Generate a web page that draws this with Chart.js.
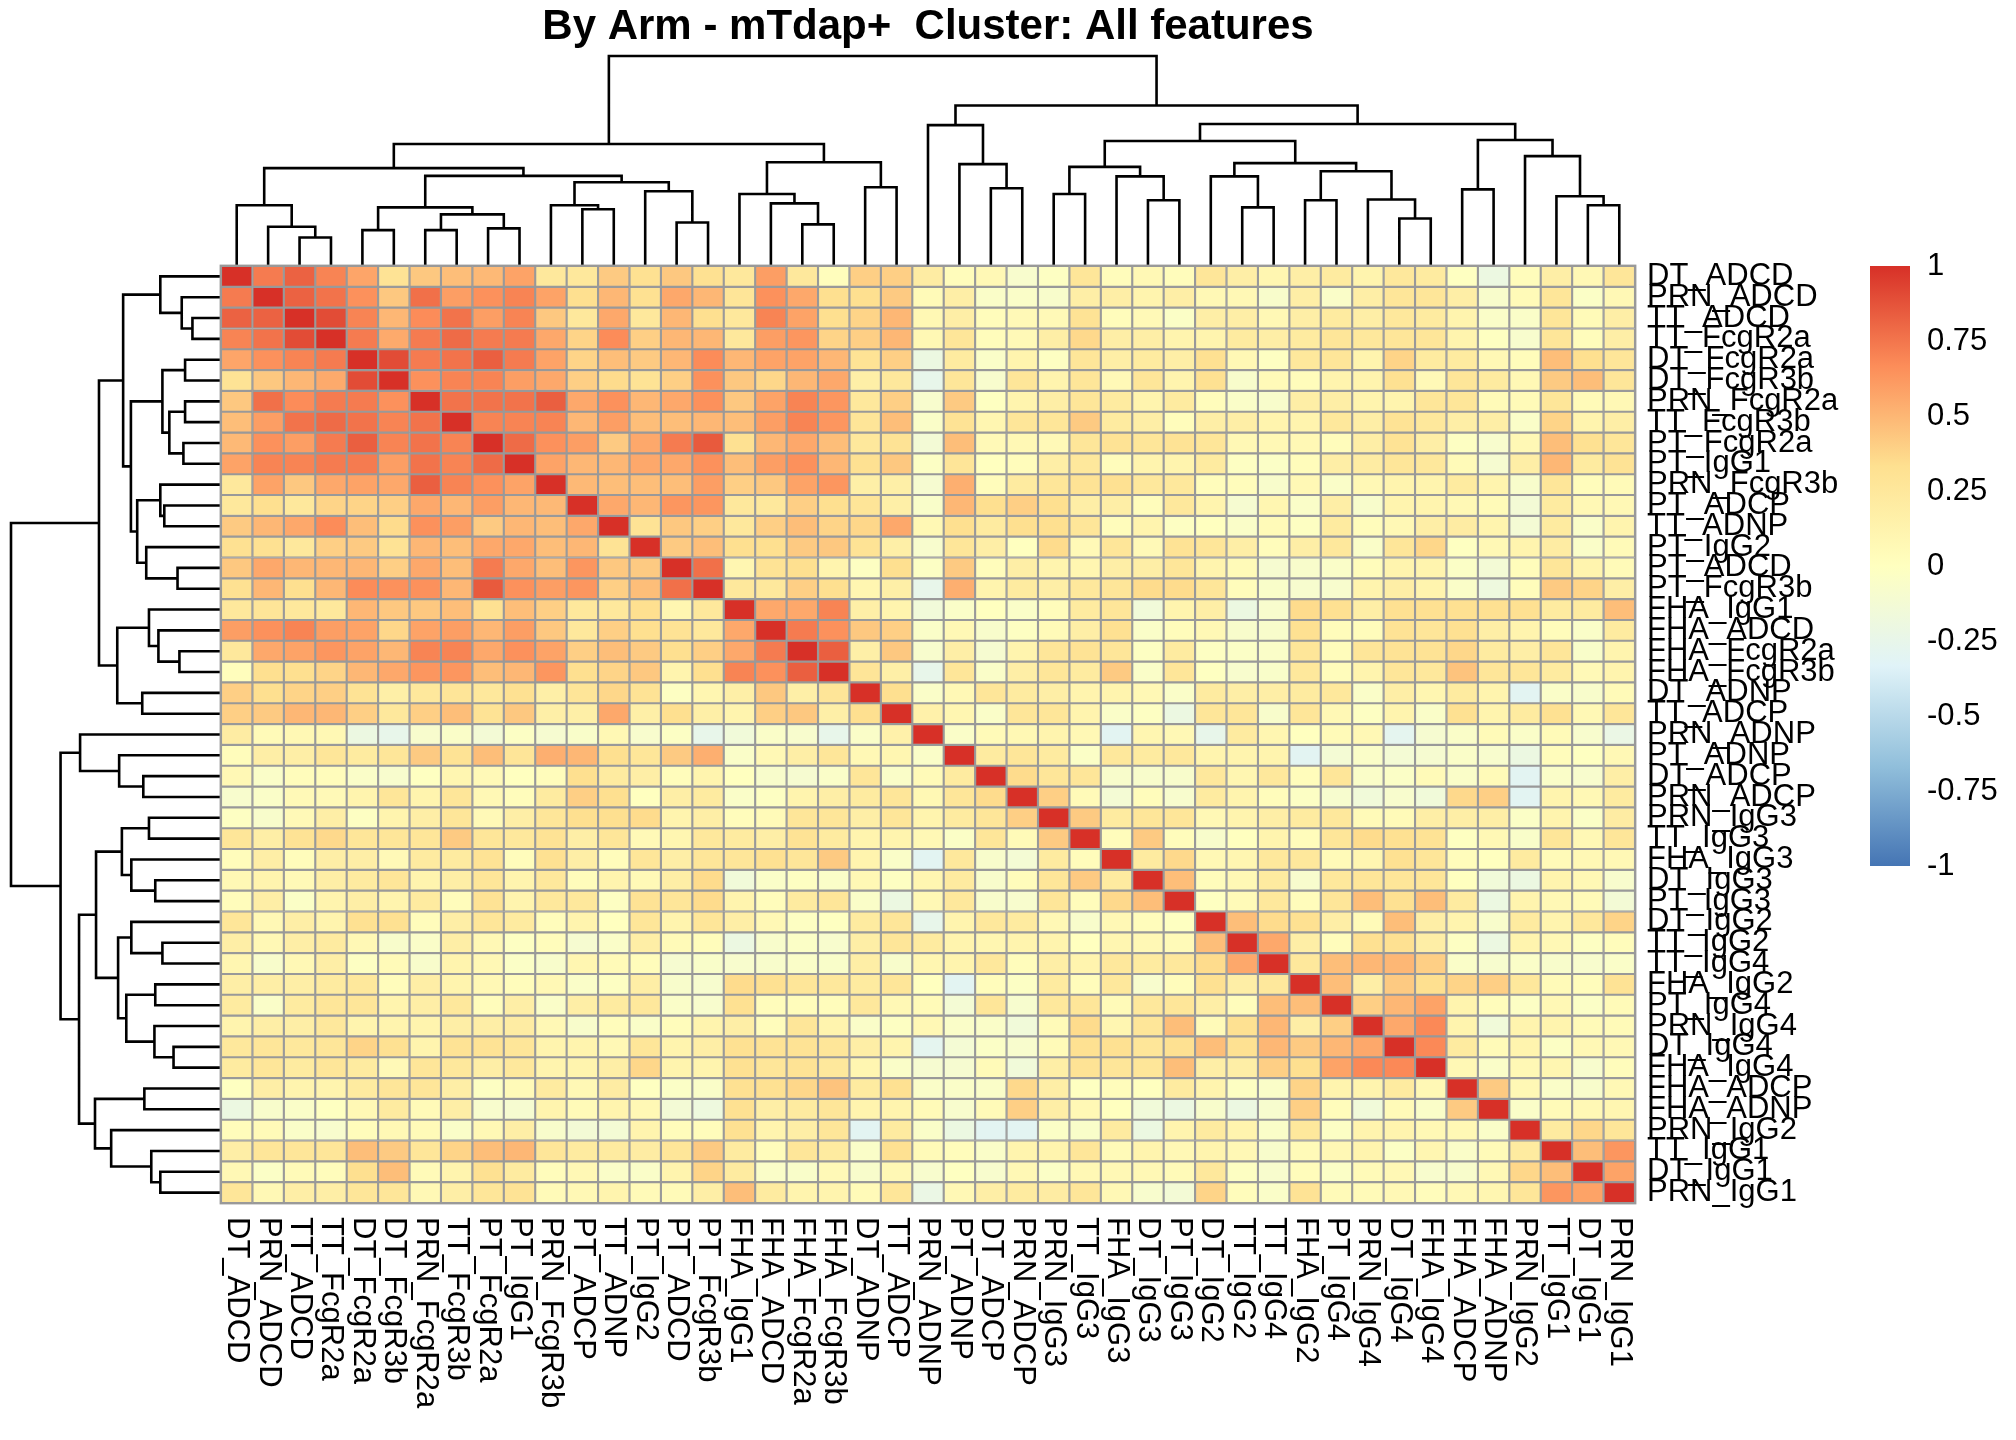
<!DOCTYPE html>
<html>
<head>
<meta charset="utf-8">
<title>By Arm - mTdap+ Cluster: All features</title>
<script src="https://cdn.jsdelivr.net/npm/chart.js@4.4.1/dist/chart.umd.min.js"></script>
<style>
  html, body { margin: 0; padding: 0; background: #ffffff; }
  #wrap { width: 2016px; height: 1440px; position: relative; }
</style>
</head>
<body>
<div id="wrap"><canvas id="heat"></canvas></div>
<script>
// feature order after clustering (same order for rows and columns)
const features = [
  'DT_ADCD', 'PRN_ADCD', 'TT_ADCD', 'TT_FcgR2a', 'DT_FcgR2a', 'DT_FcgR3b', 'PRN_FcgR2a', 'TT_FcgR3b',
  'PT_FcgR2a', 'PT_IgG1', 'PRN_FcgR3b', 'PT_ADCP', 'TT_ADNP', 'PT_IgG2', 'PT_ADCD', 'PT_FcgR3b',
  'FHA_IgG1', 'FHA_ADCD', 'FHA_FcgR2a', 'FHA_FcgR3b', 'DT_ADNP', 'TT_ADCP', 'PRN_ADNP', 'PT_ADNP',
  'DT_ADCP', 'PRN_ADCP', 'PRN_IgG3', 'TT_IgG3', 'FHA_IgG3', 'DT_IgG3', 'PT_IgG3', 'DT_IgG2',
  'TT_IgG2', 'TT_IgG4', 'FHA_IgG2', 'PT_IgG4', 'PRN_IgG4', 'DT_IgG4', 'FHA_IgG4', 'FHA_ADCP',
  'FHA_ADNP', 'PRN_IgG2', 'TT_IgG1', 'DT_IgG1', 'PRN_IgG1'
];

// correlation matrix, lower triangle (row r holds columns 0..r)
const r00 = [1];
const r01 = [0.73, 1];
const r02 = [0.82, 0.82, 1];
const r03 = [0.70, 0.76, 0.90, 1];
const r04 = [0.57, 0.65, 0.70, 0.73, 1];
const r05 = [0.30, 0.43, 0.50, 0.55, 0.90, 1];
const r06 = [0.43, 0.77, 0.67, 0.73, 0.73, 0.65, 1];
const r07 = [0.47, 0.60, 0.76, 0.79, 0.76, 0.70, 0.76, 1];
const r08 = [0.49, 0.65, 0.60, 0.73, 0.83, 0.70, 0.76, 0.70, 1];
const r09 = [0.58, 0.70, 0.70, 0.73, 0.73, 0.60, 0.76, 0.70, 0.79, 1];
const r10 = [0.25, 0.58, 0.43, 0.56, 0.58, 0.56, 0.83, 0.70, 0.65, 0.58, 1];
const r11 = [0.25, 0.33, 0.25, 0.38, 0.38, 0.40, 0.56, 0.50, 0.60, 0.50, 0.49, 1];
const r12 = [0.42, 0.50, 0.56, 0.67, 0.47, 0.35, 0.65, 0.60, 0.42, 0.50, 0.47, 0.56, 1];
const r13 = [0.32, 0.32, 0.25, 0.40, 0.42, 0.30, 0.50, 0.47, 0.56, 0.56, 0.47, 0.50, 0.30, 1];
const r14 = [0.43, 0.56, 0.50, 0.50, 0.50, 0.40, 0.56, 0.47, 0.73, 0.56, 0.47, 0.63, 0.43, 0.42, 1];
const r15 = [0.32, 0.50, 0.33, 0.50, 0.67, 0.65, 0.65, 0.50, 0.85, 0.65, 0.60, 0.63, 0.40, 0.47, 0.77, 1];
const r16 = [0.25, 0.28, 0.25, 0.25, 0.50, 0.43, 0.43, 0.47, 0.32, 0.47, 0.40, 0.25, 0.25, 0.33, 0.10, 0.25, 1];
const r17 = [0.60, 0.65, 0.70, 0.60, 0.58, 0.37, 0.58, 0.60, 0.50, 0.60, 0.43, 0.25, 0.40, 0.33, 0.30, 0.25, 0.56, 1];
const r18 = [0.25, 0.56, 0.58, 0.63, 0.58, 0.50, 0.70, 0.70, 0.56, 0.65, 0.58, 0.40, 0.47, 0.42, 0.33, 0.40, 0.56, 0.73, 1];
const r19 = [0.02, 0.33, 0.33, 0.38, 0.50, 0.56, 0.63, 0.63, 0.47, 0.50, 0.63, 0.33, 0.38, 0.43, 0.12, 0.33, 0.70, 0.65, 0.83, 1];
const r20 = [0.40, 0.33, 0.38, 0.40, 0.30, 0.17, 0.25, 0.28, 0.25, 0.32, 0.17, 0.28, 0.37, 0.30, -0.02, 0.10, 0.17, 0.43, 0.17, 0.28, 1];
const r21 = [0.40, 0.42, 0.50, 0.50, 0.40, 0.25, 0.40, 0.47, 0.30, 0.43, 0.17, 0.17, 0.56, 0.17, 0.33, 0.17, 0.12, 0.40, 0.43, 0.17, 0.33, 1];
const r22 = [0.20, 0.05, 0.08, 0.08, -0.20, -0.25, -0.08, -0.05, -0.13, -0.03, -0.10, -0.06, 0.08, -0.08, -0.03, -0.25, -0.15, -0.05, -0.08, -0.25, -0.05, 0.15, 1];
const r23 = [0.03, 0.18, 0.18, 0.27, 0.22, 0.27, 0.42, 0.30, 0.47, 0.28, 0.53, 0.50, 0.33, 0.27, 0.42, 0.53, -0.05, 0.07, 0.18, 0.27, 0.07, 0.10, -0.05, 1];
const r24 = [0.07, -0.05, 0.03, 0.03, -0.05, -0.08, -0.01, 0.10, 0.06, 0.00, 0.03, 0.33, 0.22, 0.18, 0.03, 0.12, 0.00, -0.07, -0.10, -0.05, 0.27, -0.05, 0.05, 0.22, 1];
const r25 = [-0.08, -0.05, 0.06, 0.06, 0.12, 0.27, 0.12, 0.27, 0.07, 0.03, 0.22, 0.40, 0.33, 0.00, 0.18, 0.22, -0.05, -0.02, 0.12, 0.18, 0.22, 0.27, 0.08, 0.27, 0.35, 1];
const r26 = [-0.02, -0.07, 0.06, 0.18, -0.02, 0.12, 0.18, 0.27, 0.06, 0.18, 0.27, 0.33, 0.33, 0.35, 0.12, 0.18, 0.03, 0.05, 0.27, 0.27, 0.18, 0.27, 0.12, 0.22, 0.27, 0.40, 1];
const r27 = [0.27, 0.18, 0.30, 0.36, 0.27, 0.27, 0.27, 0.42, 0.27, 0.25, 0.30, 0.18, 0.27, 0.06, 0.10, 0.25, 0.22, 0.18, 0.30, 0.22, 0.12, 0.12, 0.07, -0.04, 0.27, 0.05, 0.42, 1];
const r28 = [0.03, 0.18, 0.03, 0.18, 0.18, 0.06, 0.22, 0.22, 0.30, 0.03, 0.32, 0.18, 0.03, 0.27, 0.18, 0.27, 0.27, 0.32, 0.27, 0.42, 0.12, -0.05, -0.30, 0.25, -0.07, -0.12, 0.22, 0.03, 1];
const r29 = [0.07, 0.12, 0.06, 0.18, 0.22, 0.27, 0.12, 0.18, 0.27, 0.12, 0.25, 0.03, 0.12, 0.06, 0.18, 0.35, -0.15, -0.05, -0.02, -0.05, 0.07, -0.02, 0.10, 0.22, -0.07, 0.03, 0.27, 0.42, 0.22, 1];
const r30 = [0.03, 0.18, -0.04, 0.12, 0.18, 0.12, 0.22, 0.03, 0.30, 0.12, 0.25, 0.25, -0.02, 0.30, 0.27, 0.35, 0.12, 0.03, 0.22, 0.27, -0.05, -0.20, 0.07, 0.25, -0.07, -0.08, 0.27, 0.03, 0.36, 0.47, 1];
const r31 = [0.27, 0.07, 0.18, 0.12, 0.32, 0.32, 0.03, 0.18, 0.27, 0.22, 0.03, 0.12, 0.00, 0.27, 0.12, 0.27, 0.18, 0.07, -0.02, -0.01, 0.22, 0.27, -0.25, 0.12, 0.25, 0.22, 0.07, -0.07, 0.07, 0.03, -0.01, 1];
const r32 = [0.18, 0.07, 0.18, 0.22, 0.07, -0.07, -0.05, 0.18, 0.07, -0.02, 0.03, -0.10, -0.05, 0.18, 0.05, 0.03, -0.20, -0.07, -0.04, -0.08, 0.18, 0.27, 0.22, 0.12, 0.10, 0.12, 0.12, 0.00, 0.10, 0.07, 0.05, 0.47, 1];
const r33 = [0.10, -0.07, 0.07, 0.18, -0.02, 0.05, -0.07, 0.12, 0.07, -0.04, -0.07, 0.10, 0.05, 0.03, -0.10, -0.06, -0.08, -0.07, -0.05, -0.06, 0.18, -0.07, 0.10, 0.12, 0.25, 0.03, 0.18, 0.12, 0.25, 0.22, 0.25, 0.35, 0.56, 1];
const r34 = [0.18, 0.18, 0.18, 0.22, 0.25, 0.03, 0.18, 0.12, 0.07, 0.03, 0.07, -0.05, -0.02, 0.18, -0.07, -0.09, 0.35, 0.32, 0.27, 0.25, 0.22, 0.27, 0.00, -0.30, 0.03, -0.03, 0.22, 0.03, 0.25, -0.08, 0.03, 0.32, 0.18, 0.25, 1];
const r35 = [0.22, -0.05, 0.22, 0.27, 0.27, 0.12, 0.18, 0.25, 0.03, 0.18, -0.05, 0.18, 0.22, 0.25, -0.05, -0.08, 0.32, 0.03, 0.03, 0.03, 0.25, 0.07, 0.05, -0.12, 0.27, -0.09, 0.25, 0.27, 0.05, 0.25, 0.27, 0.18, 0.03, 0.47, 0.47, 1];
const r36 = [0.12, 0.18, 0.18, 0.25, 0.12, 0.12, 0.12, 0.18, 0.18, 0.20, 0.07, -0.07, 0.03, -0.05, 0.03, 0.12, 0.18, 0.03, 0.27, 0.12, -0.05, -0.02, 0.07, -0.05, -0.05, -0.15, 0.05, 0.35, 0.10, 0.27, 0.47, 0.05, 0.32, 0.50, 0.18, 0.40, 1];
const r37 = [0.25, 0.27, 0.25, 0.27, 0.38, 0.32, 0.12, 0.30, 0.30, 0.27, 0.12, 0.12, 0.07, 0.27, 0.12, 0.18, 0.32, 0.30, 0.30, 0.27, 0.18, 0.12, -0.28, -0.12, -0.04, -0.08, 0.05, 0.32, 0.32, 0.27, 0.32, 0.47, 0.32, 0.50, 0.42, 0.50, 0.56, 1];
const r38 = [0.22, 0.27, 0.22, 0.27, 0.22, 0.06, 0.27, 0.25, 0.18, 0.25, 0.12, 0.12, 0.18, 0.37, 0.12, 0.12, 0.32, 0.27, 0.30, 0.25, 0.10, -0.05, -0.10, -0.10, 0.05, -0.15, 0.18, 0.30, 0.27, 0.27, 0.47, 0.18, 0.18, 0.40, 0.33, 0.58, 0.68, 0.68, 1];
const r39 = [-0.01, 0.18, 0.12, 0.12, 0.22, 0.27, 0.27, 0.18, -0.02, 0.05, 0.22, 0.07, 0.20, -0.01, -0.04, -0.05, 0.32, 0.32, 0.37, 0.45, 0.22, 0.32, -0.05, -0.05, -0.05, 0.36, 0.18, -0.01, 0.03, 0.00, 0.22, 0.12, -0.02, -0.05, 0.38, 0.12, 0.12, 0.22, 0.07, 1];
const r40 = [-0.20, -0.07, -0.05, -0.01, 0.07, 0.22, 0.05, 0.18, -0.08, -0.10, 0.12, 0.05, 0.12, 0.07, -0.13, -0.18, 0.32, 0.18, 0.22, 0.27, 0.12, 0.12, 0.05, -0.08, 0.05, 0.40, 0.18, 0.07, 0.00, -0.15, -0.20, -0.07, -0.20, -0.09, 0.40, 0.03, -0.15, 0.05, -0.05, 0.42, 1];
const r41 = [0.03, 0.05, -0.05, -0.08, 0.03, 0.07, 0.05, -0.05, 0.07, 0.18, -0.07, -0.13, -0.12, 0.12, 0.03, 0.03, 0.32, 0.12, 0.18, 0.27, -0.30, 0.22, -0.05, -0.20, -0.30, -0.30, -0.04, -0.06, 0.22, -0.20, 0.12, 0.22, 0.12, -0.05, 0.25, -0.03, 0.12, 0.12, 0.07, 0.07, -0.05, 1];
const r42 = [0.18, 0.27, 0.27, 0.27, 0.47, 0.42, 0.27, 0.38, 0.47, 0.50, 0.27, 0.22, 0.22, 0.20, 0.27, 0.42, 0.22, 0.03, 0.27, 0.22, -0.05, 0.32, 0.05, 0.03, -0.05, 0.12, 0.12, 0.27, 0.05, 0.12, 0.07, 0.12, 0.07, -0.07, 0.05, 0.07, 0.12, -0.03, 0.10, -0.05, 0.05, 0.22, 1];
const r43 = [0.07, -0.04, 0.05, 0.03, 0.33, 0.47, 0.05, 0.12, 0.32, 0.22, 0.03, 0.07, -0.05, -0.05, 0.12, 0.38, 0.22, -0.05, -0.06, 0.06, -0.07, 0.07, -0.08, -0.01, -0.08, 0.07, -0.04, 0.07, 0.07, 0.07, 0.05, 0.25, -0.02, -0.08, 0.03, -0.04, 0.05, 0.07, -0.08, -0.07, 0.07, 0.37, 0.47, 1];
const r44 = [0.27, 0.07, 0.18, 0.18, 0.27, 0.27, 0.07, 0.18, 0.27, 0.30, 0.05, 0.07, 0.12, 0.05, 0.05, 0.18, 0.47, 0.22, 0.12, 0.12, 0.05, 0.27, -0.22, 0.07, 0.18, 0.22, 0.20, 0.27, 0.07, -0.08, -0.13, 0.38, 0.03, -0.05, 0.30, 0.05, 0.05, 0.07, 0.03, 0.07, 0.10, 0.27, 0.63, 0.58, 1];
const lowerRows = [r00, r01, r02, r03, r04, r05, r06, r07, r08, r09, r10, r11, r12, r13, r14, r15,
  r16, r17, r18, r19, r20, r21, r22, r23, r24, r25, r26, r27, r28, r29, r30, r31, r32, r33, r34, r35,
  r36, r37, r38, r39, r40, r41, r42, r43, r44];

// hclust-style merges (same tree on rows and columns):
// negative = leaf number (1-based), positive = earlier merge step
const mergeA = [-3, -2, -1, -5, -7, -9, 5, 4, -12, -11, -15, -14, 10, 8, 3, -19, -18, -17, -21, 18, 15,
  -25, -24, -23, -27, -30, -29, 25, -33, -32, -35, -38, -37, 31, 30, 28, -40, -44, -43, -42, 37, 36, 24, 21];
const mergeB = [-4, 1, 2, -6, -8, -10, 6, 7, -13, 9, -16, 11, 12, 13, 14, -20, 16, 17, -22, 19, 20,
  -26, 22, 23, -28, -31, 26, 27, -34, 29, -36, -39, 32, 33, 34, 35, -41, -45, 38, 39, 40, 41, 42, 43];
const mergeHeight = [0.136, 0.187, 0.289, 0.171, 0.171, 0.179, 0.246, 0.279, 0.270, 0.289, 0.207, 0.356,
  0.399, 0.429, 0.466, 0.198, 0.298, 0.343, 0.375, 0.494, 0.581, 0.370, 0.485, 0.671, 0.343, 0.313,
  0.427, 0.472, 0.279, 0.427, 0.313, 0.226, 0.317, 0.451, 0.490, 0.595, 0.365, 0.289, 0.332, 0.523,
  0.600, 0.676, 0.764, 1.000];

const keyTicks = [1, 0.75, 0.5, 0.25, 0, -0.25, -0.5, -0.75, -1];
const paletteStops = ['#4575B4', '#91BFDB', '#E0F3F8', '#FFFFBF', '#FEE090', '#FC8D59', '#D73027'];

const titleText = 'By Arm - mTdap+  Cluster: All features';

// ---- layout ----
const W = 2016, H = 1440;
const n = features.length;
const pad = { left: 221, right: 381, top: 0, bottom: 237 };
const gridTop = 266;
const cellW = (W - pad.left - pad.right) / n;
const cellH = (H - gridTop - pad.bottom) / n;
const dendroPx = 210;
const FONT = "'Liberation Sans', Arial, Helvetica, sans-serif";
const titleSize = 42;

function corr(r, c) {
  return c <= r ? lowerRows[r][c] : lowerRows[c][r];
}

function hexRgb(h) {
  return [1, 3, 5].map(i => parseInt(h.substr(i, 2), 16));
}

function corrColor(v) {
  const t = (Math.max(-1, Math.min(1, v)) + 1) / 2 * (paletteStops.length - 1);
  const i = Math.min(Math.floor(t), paletteStops.length - 2);
  const f = t - i;
  const a = hexRgb(paletteStops[i]), b = hexRgb(paletteStops[i + 1]);
  const m = a.map((x, k) => Math.round(x + (b[k] - x) * f));
  return `rgb(${m[0]},${m[1]},${m[2]})`;
}

// dendrogram U-shapes, broken with null points
function dendroPoints(toPoint) {
  const pos = [], hgt = [], pts = [];
  const node = id => id < 0 ? { p: -id - 1, h: 0 } : { p: pos[id - 1], h: hgt[id - 1] };
  mergeA.forEach((a, i) => {
    const A = node(a), B = node(mergeB[i]), h = mergeHeight[i];
    pts.push(toPoint(A.p, A.h), toPoint(A.p, h), toPoint(B.p, h), toPoint(B.p, B.h), { x: null, y: null });
    pos.push((A.p + B.p) / 2);
    hgt.push(h);
  });
  return pts;
}

const topSpan = dendroPx / cellH;   // in row units
const leftSpan = dendroPx / cellW;  // in column units
const colTree = dendroPoints((p, h) => ({ x: p, y: -0.5 - h * topSpan }));
const rowTree = dendroPoints((p, h) => ({ x: -0.5 - h * leftSpan, y: p }));

const cellSets = features.map((name, r) => ({
  type: 'bar',
  label: name,
  grouped: false,
  data: features.map(() => [r - 0.5, r + 0.5]),
  backgroundColor: features.map((_, c) => corrColor(corr(r, c))),
  borderColor: '#999999',
  borderWidth: 1.4,
  borderSkipped: false,
  barPercentage: 1,
  categoryPercentage: 1,
  xAxisID: 'x',
  yAxisID: 'y'
}));

const treeStyle = {
  type: 'line',
  borderColor: '#000000',
  borderWidth: 2.6,
  borderCapStyle: 'square',
  borderJoinStyle: 'miter',
  pointRadius: 0,
  fill: false,
  tension: 0,
  spanGaps: false,
  clip: false,
  xAxisID: 'xd',
  yAxisID: 'yd'
};

const labelPlugin = {
  id: 'featureLabels',
  afterDraw(chart) {
    const { ctx, chartArea, scales } = chart;
    ctx.save();
    // outer frame of the grid
    ctx.strokeStyle = '#999999';
    ctx.lineWidth = 1.4;
    ctx.strokeRect(chartArea.left - 0.7, chartArea.top - 0.7,
      chartArea.right - chartArea.left + 1.4, chartArea.bottom - chartArea.top + 1.4);

    ctx.fillStyle = '#000';
    ctx.font = `31px ${FONT}`;
    ctx.textBaseline = 'middle';
    ctx.textAlign = 'left';
    features.forEach((f, r) => {
      ctx.fillText(f, chartArea.right + 12, scales.y.getPixelForValue(r));
    });
    features.forEach((f, c) => {
      ctx.save();
      ctx.translate(scales.x.getPixelForValue(c), chartArea.bottom + 14);
      ctx.rotate(Math.PI / 2);
      ctx.fillText(f, 0, 0);
      ctx.restore();
    });

    // colour key
    const kx = chartArea.right + 235, kw = 40;
    const kTop = chartArea.top, kh = 600;
    const keyY = v => kTop + (1 - v) / 2 * kh;
    const g = ctx.createLinearGradient(0, keyY(1), 0, keyY(-1));
    paletteStops.forEach((col, i) => g.addColorStop(1 - i / (paletteStops.length - 1), col));
    ctx.fillStyle = g;
    ctx.fillRect(kx, keyY(1), kw, kh);
    ctx.fillStyle = '#000';
    keyTicks.forEach(v => ctx.fillText(String(v), kx + kw + 17, keyY(v)));
    ctx.restore();
  }
};

new Chart(document.getElementById('heat'), {
  type: 'bar',
  data: {
    labels: features,
    datasets: [
      ...cellSets,
      { ...treeStyle, label: 'column tree', data: colTree },
      { ...treeStyle, label: 'row tree', data: rowTree }
    ]
  },
  options: {
    responsive: true,
    maintainAspectRatio: false,
    animation: false,
    events: [],
    layout: { padding: pad },
    scales: {
      x: { type: 'category', display: false, offset: true, grid: { display: false } },
      y: { type: 'linear', display: false, min: -0.5, max: n - 0.5, reverse: true, stacked: false, offset: false },
      xd: { type: 'linear', axis: 'x', display: false, min: -0.5, max: n - 0.5, offset: false },
      yd: { type: 'linear', axis: 'y', display: false, min: -0.5, max: n - 0.5, reverse: true, offset: false }
    },
    plugins: {
      legend: { display: false },
      tooltip: { enabled: false },
      title: {
        display: true,
        text: titleText,
        color: '#000',
        font: { family: FONT, size: titleSize, weight: 'bold', lineHeight: 1.2 },
        padding: { top: 2, bottom: gridTop - 2 - titleSize * 1.2 }
      }
    }
  },
  plugins: [labelPlugin]
});
</script>
</body>
</html>
